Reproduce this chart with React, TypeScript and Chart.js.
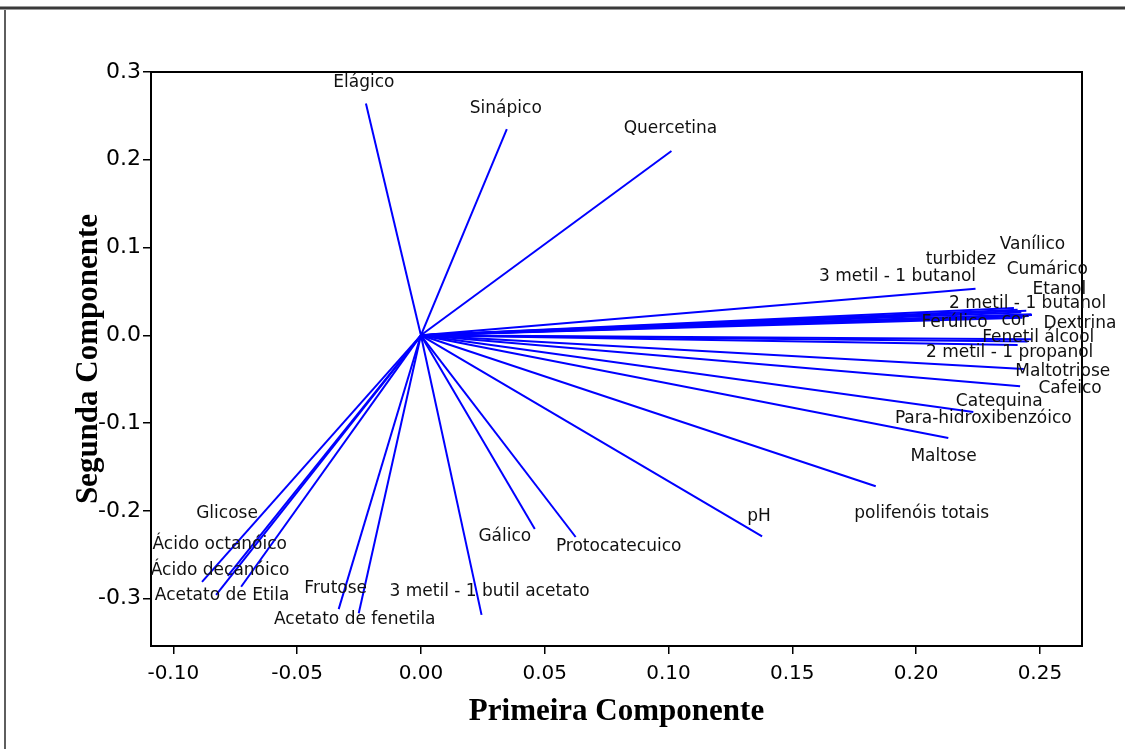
import React, { useEffect, useRef } from "react";
import { Chart, registerables } from "chart.js";

Chart.register(...registerables);

// ---- data (loadings) ----
const variables = [
  "Elágico", "Sinápico", "Quercetina", "Vanílico", "turbidez", "Cumárico",
  "3 metil - 1 butanol", "Etanol", "2 metil - 1 butanol", "Ferúlico", "cor", "Dextrina",
  "Fenetil álcool", "2 metil - 1 propanol", "Maltotriose", "Cafeico", "Catequina",
  "Para-hidroxibenzóico", "Maltose", "polifenóis totais", "pH", "Protocatecuico", "Gálico",
  "3 metil - 1 butil acetato", "Frutose", "Acetato de fenetila", "Glicose",
  "Ácido octanóico", "Ácido decanóico", "Acetato de Etila",
];
const pc1 = [
  -0.0222, 0.0347, 0.1012, 0.2466, 0.2395, 0.2445,
  0.2240, 0.2425, 0.2410, 0.2430, 0.2455, 0.2468,
  0.2465, 0.2410, 0.2435, 0.2420, 0.2231,
  0.2130, 0.2450, 0.1837, 0.1378, 0.0625, 0.0460,
  0.0245, -0.0332, -0.0251, -0.0884,
  -0.0780, -0.0827, -0.0726,
];
const pc2 = [
  0.264, 0.235, 0.210, 0.0240, 0.0310, 0.0280,
  0.0530, 0.0260, 0.0290, 0.0200, 0.0220, 0.0230,
  -0.0045, -0.0110, -0.0385, -0.0580, -0.0875,
  -0.1170, -0.0070, -0.1720, -0.2290, -0.2298, -0.2207,
  -0.3185, -0.3120, -0.3166, -0.2810,
  -0.2740, -0.2957, -0.2865,
];
const xTickValues = [-0.1, -0.05, 0, 0.05, 0.1, 0.15, 0.2, 0.25];
const yTickValues = [-0.3, -0.2, -0.1, 0, 0.1, 0.2, 0.3];
const xAxisTitle = "Primeira Componente";
const yAxisTitle = "Segunda Componente";

// ---- layout: label offsets (px) from each vector tip ----
const labelOffsets: [number, number][] = [
  [-2, -21], [-1, -20], [-1, -22], [1, -70], [-53, -49], [21, -41],
  [-78, -12], [38, -23], [10, -6], [-68, 5], [-14, 5], [48, 8],
  [7, -2], [-8, 8], [39, 2], [50, 2], [26, -11],
  [35, -19], [-84, 115], [46, 27], [-3, -20], [43, 10], [-30, 8],
  [8, -23], [-3, -21], [-4, 6], [25, -68],
  [-8, -31], [4, -24], [-19, 9],
];

const SANS = '"DejaVu Sans", Verdana, sans-serif';
const SERIF = '"Liberation Serif", "Times New Roman", serif';

const backgroundPlugin = {
  id: "pageBackground",
  beforeDraw(chart: any) {
    const { ctx, width, height } = chart;
    ctx.save();
    ctx.fillStyle = "#ffffff";
    ctx.fillRect(0, 0, width, height);
    // outer figure border (top and left)
    ctx.fillStyle = "#9a9a9a";
    ctx.fillRect(0, 6, width, 4);
    ctx.fillStyle = "#3a3a3a";
    ctx.fillRect(0, 7, width, 2);
    ctx.fillStyle = "#9a9a9a";
    ctx.fillRect(4, 10, 2, height - 10);
    ctx.fillStyle = "#222222";
    ctx.fillRect(4.5, 10, 1, height - 10);
    ctx.restore();
  },
};

const frameAndLabelsPlugin = {
  id: "frameAndLabels",
  afterDatasetsDraw(chart: any) {
    const { ctx, chartArea } = chart;
    const xs = chart.scales.x;
    const ys = chart.scales.y;
    ctx.save();
    ctx.strokeStyle = "#000000";
    ctx.lineWidth = 2;
    ctx.strokeRect(chartArea.left, chartArea.top, chartArea.right - chartArea.left, chartArea.bottom - chartArea.top);
    ctx.fillStyle = "#111111";
    ctx.font = `17px ${SANS}`;
    ctx.textAlign = "center";
    ctx.textBaseline = "middle";
    variables.forEach((name, i) => {
      const px = xs.getPixelForValue(pc1[i]) + labelOffsets[i][0];
      const py = ys.getPixelForValue(pc2[i]) + labelOffsets[i][1];
      ctx.fillText(name, px, py);
    });
    ctx.restore();
  },
};

export default function App() {
  const canvasRef = useRef<HTMLCanvasElement | null>(null);

  useEffect(() => {
    if (!canvasRef.current) return;
    const datasets = variables.map((name, i) => ({
      label: name,
      data: [
        { x: 0, y: 0 },
        { x: pc1[i], y: pc2[i] },
      ],
      showLine: true,
      borderColor: "#0000ff",
      backgroundColor: "#0000ff",
      borderWidth: 2,
      pointRadius: 0,
      fill: false,
    }));

    const chart = new Chart(canvasRef.current, {
      type: "scatter",
      data: { datasets },
      options: {
        animation: false,
        responsive: false,
        devicePixelRatio: 1,
        layout: { padding: { top: 72, right: 43, left: 0, bottom: 0 } },
        plugins: {
          legend: { display: false },
          tooltip: { enabled: false },
        },
        scales: {
          x: {
            type: "linear",
            min: -0.109,
            max: 0.267,
            afterBuildTicks: (s: any) => {
              s.ticks = xTickValues.map((v) => ({ value: v }));
            },
            afterFit: (s: any) => {
              s.height = 103;
            },
            ticks: {
              callback: (v: any) => Number(v).toFixed(2),
              font: { family: SANS, size: 20 },
              color: "#000000",
              padding: 8,
              maxRotation: 0,
              autoSkip: false,
            },
            grid: {
              drawOnChartArea: false,
              drawTicks: true,
              tickLength: 8,
              color: "#000000",
              lineWidth: 1.5,
            },
            border: { display: false },
            title: {
              display: true,
              text: xAxisTitle,
              color: "#000000",
              font: { family: SERIF, size: 31, weight: "bold" },
              padding: { top: 0, bottom: 18 },
            },
          },
          y: {
            type: "linear",
            min: -0.354,
            max: 0.3,
            afterBuildTicks: (s: any) => {
              s.ticks = yTickValues.map((v) => ({ value: v }));
            },
            afterFit: (s: any) => {
              s.width = 151;
            },
            ticks: {
              callback: (v: any) => Number(v).toFixed(1),
              font: { family: SANS, size: 22 },
              color: "#000000",
              padding: 2,
              autoSkip: false,
            },
            grid: {
              drawOnChartArea: false,
              drawTicks: true,
              tickLength: 8,
              color: "#000000",
              lineWidth: 1.5,
            },
            border: { display: false },
            title: {
              display: true,
              text: yAxisTitle,
              color: "#000000",
              font: { family: SERIF, size: 31, weight: "bold" },
              padding: { top: 70, bottom: 0 },
            },
          },
        },
      },
      plugins: [backgroundPlugin, frameAndLabelsPlugin],
    } as any);

    return () => chart.destroy();
  }, []);

  return (
    <div style={{ position: "absolute", left: 0, top: 0, width: 1125, height: 749, background: "#fff" }}>
      <canvas ref={canvasRef} width={1125} height={749} style={{ display: "block" }} />
    </div>
  );
}
